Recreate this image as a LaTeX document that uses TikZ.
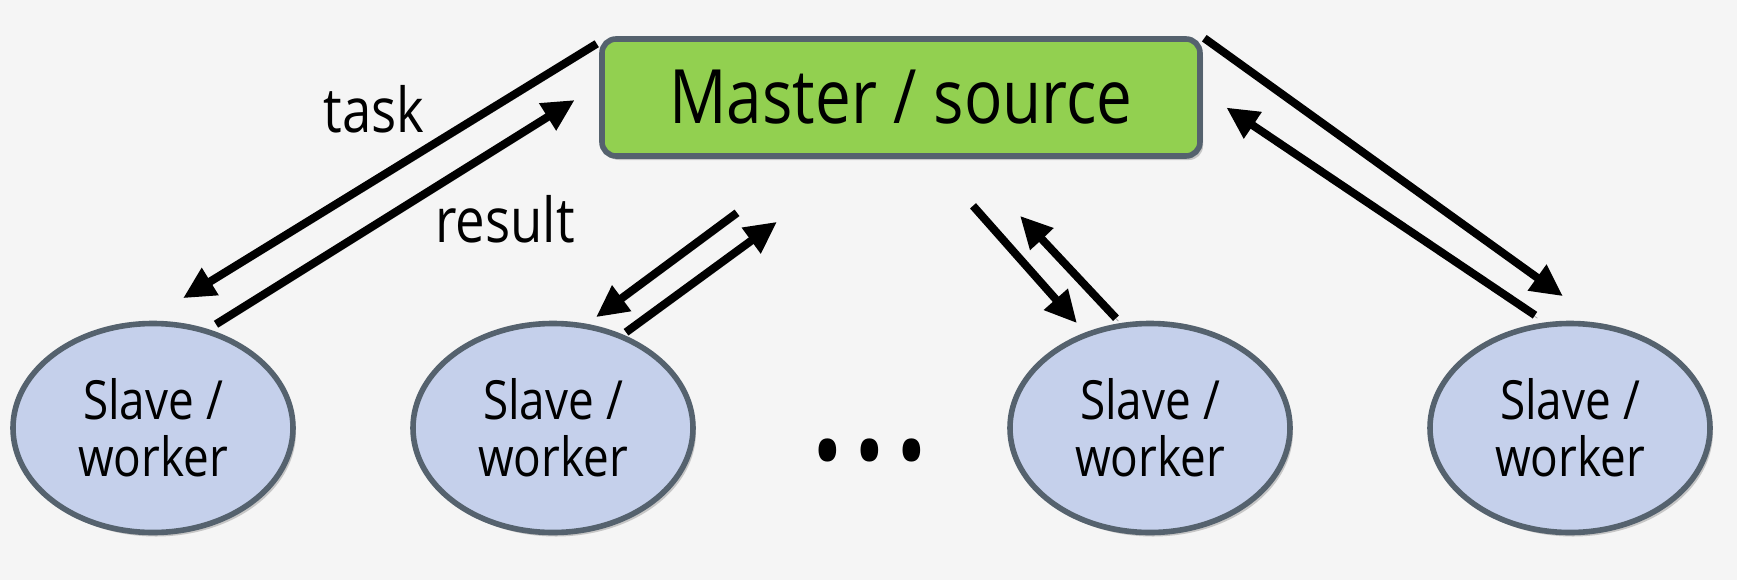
\documentclass[tikz,border=0pt]{standalone}
\usepackage{fontspec}
\setmainfont[FakeStretch=0.85]{Open Sans}
\usepackage{xcolor}
\usetikzlibrary{
    arrows.meta,
    shapes,
    shadows,
    calc,
    positioning,
}
\definecolor{bgGray}{HTML}{F5F5F5}
\definecolor{masterGreen}{HTML}{92D050}
\definecolor{slaveBlue}{HTML}{C5D0EB}
\definecolor{edgeSlate}{HTML}{55626E}

\begin{document}
\begin{tikzpicture}[x=0.5pt,y=-0.5pt,>={Triangle[length=16pt,width=15pt]}]

    \tikzstyle{commonNode}=[align=center, line width=2.8pt, draw=edgeSlate,
        drop shadow={shadow xshift=1.5pt, shadow yshift=-2pt, fill=black!40}]
    \tikzstyle{master}=[commonNode, rectangle, rounded corners=7pt, fill=masterGreen,
        minimum width=299pt, minimum height=58.5pt, font=\fontsize{37.5}{44}\selectfont]
    \tikzstyle{slave}=[commonNode, ellipse, fill=slaveBlue, inner sep=0pt,
        minimum width=140pt, minimum height=104.5pt, font=\fontsize{27}{28.5}\selectfont]
    \tikzstyle{label}=[anchor=base, font=\fontsize{31}{36}\selectfont]
    \tikzstyle{pre}=[->, line width=4pt,
        preaction={draw=black!35, transform canvas={shift={(1.2pt,-1.5pt)}}}]

    % Canvas
    \fill[bgGray] (0,0) rectangle (1737,580);
    \useasboundingbox (0,0) rectangle (1737,580);

    % Spacing the nodes out
    \def \row {428}

    % Master
    \node at (901, 97.5) [master] (M) {Master / source};

    % Slaves
    \node at (153, \row)  [slave] (S1) {Slave /\\worker};
    \node at (553, \row)  [slave] (S2) {Slave /\\worker};
    \node at (1150, \row) [slave] (S3) {Slave /\\worker};
    \node at (1570, \row) [slave] (S4) {Slave /\\worker};

    % Dots
    \node at (870, 462) (dots) {\fontsize{48}{48}\selectfont\textbullet\hspace{5.5pt}\textbullet\hspace{5.5pt}\textbullet};

    % Labels
    \node at (374, 132) [label] (task)   {task};
    \node at (505, 242) [label] (result) {result};

    % Tasks and results
    \draw [pre] ([shift={(-2.5,7.5)}]M.north west) -- ([shift={(30,-22.5)}]S1.north);
    \draw [pre] ([shift={(63,3.5)}]S1.north)       -- ([shift={(-24.5,2.5)}]M.west);

    \draw [pre] ([shift={(-164,54)}]M.south)       -- ([shift={(43,-3.5)}]S2.north);
    \draw [pre] ([shift={(73,11.5)}]S2.north)      -- ([shift={(-124,63)}]M.south);

    \draw [pre] ([shift={(72,47)}]M.south)         -- ([shift={(-73,2.5)}]S3.north);
    \draw [pre] ([shift={(-34,-2.5)}]S3.north)     -- ([shift={(119,57)}]M.south);

    \draw [pre] ([shift={(1.5,2)}]M.north east)    -- ([shift={(-7,-24.5)}]S4.north);
    \draw [pre] ([shift={(-35,-5.5)}]S4.north)     -- ([shift={(23.5,10)}]M.east);

\end{tikzpicture}
\end{document}
